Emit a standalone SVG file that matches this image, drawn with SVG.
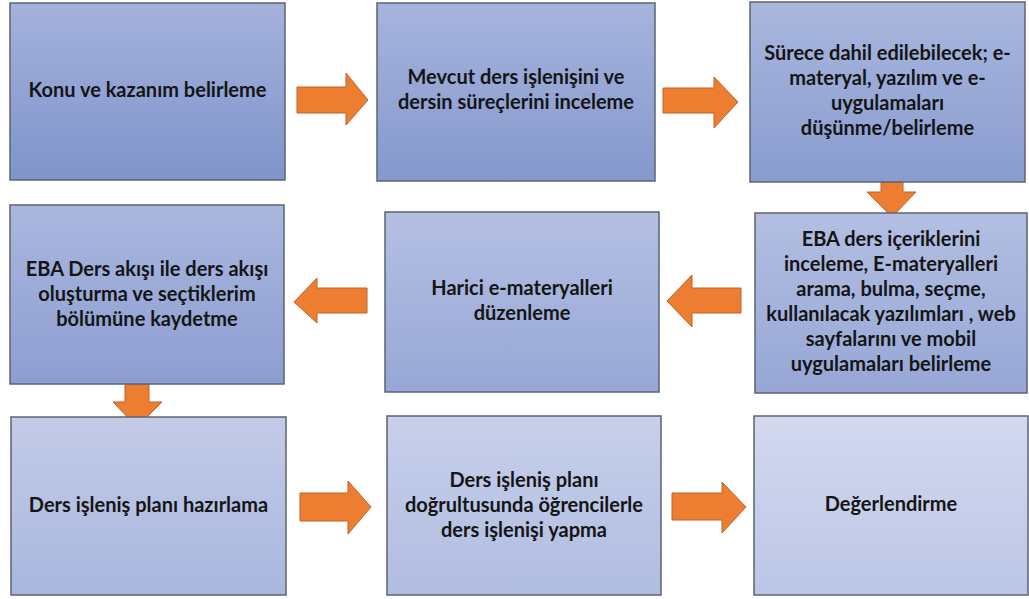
<svg xmlns="http://www.w3.org/2000/svg" width="1029" height="599" viewBox="0 0 1029 599">
<defs>
<linearGradient id="g1" x1="0" y1="0" x2="0" y2="1"><stop offset="0" stop-color="#a4b2dc"/><stop offset="1" stop-color="#7f94cb"/></linearGradient>
<linearGradient id="g2" x1="0" y1="0" x2="0" y2="1"><stop offset="0" stop-color="#a6b4dd"/><stop offset="1" stop-color="#8598cd"/></linearGradient>
<linearGradient id="g3" x1="0" y1="0" x2="0" y2="1"><stop offset="0" stop-color="#a9b7de"/><stop offset="1" stop-color="#899cd0"/></linearGradient>
<linearGradient id="g4" x1="0" y1="0" x2="0" y2="1"><stop offset="0" stop-color="#b3bfe2"/><stop offset="1" stop-color="#96a7d6"/></linearGradient>
<linearGradient id="g5" x1="0" y1="0" x2="0" y2="1"><stop offset="0" stop-color="#b4bfe2"/><stop offset="1" stop-color="#97a8d6"/></linearGradient>
<linearGradient id="g6" x1="0" y1="0" x2="0" y2="1"><stop offset="0" stop-color="#aab7df"/><stop offset="1" stop-color="#8c9ed1"/></linearGradient>
<linearGradient id="g7" x1="0" y1="0" x2="0" y2="1"><stop offset="0" stop-color="#c3cbe8"/><stop offset="1" stop-color="#a9b7de"/></linearGradient>
<linearGradient id="g8" x1="0" y1="0" x2="0" y2="1"><stop offset="0" stop-color="#c7cfea"/><stop offset="1" stop-color="#b0bce1"/></linearGradient>
<linearGradient id="g9" x1="0" y1="0" x2="0" y2="1"><stop offset="0" stop-color="#d3d9ef"/><stop offset="1" stop-color="#bcc5e6"/></linearGradient>
</defs>
<style>
.box{stroke:#5d6370;stroke-width:1.5}
.t{font-family:Lato,"Open Sans","Liberation Sans",sans-serif;font-weight:bold;font-size:20px;fill:#151515;text-anchor:middle}
.ar{fill:#ed7d31;stroke:#c0622a;stroke-width:1}
</style>
<rect width="1029" height="599" fill="#ffffff"/>
<g id="connectors">
<polygon class="ar" points="297,87 346,87 346,73 368,100 346,125 346,113 297,113"/>
<polygon class="ar" points="663,88 714,88 714,77 738,102 714,128 714,113 663,113"/>
<polygon class="ar" points="881,167 903,167 903,192 916,192 892,217 867,192 881,192"/>
<polygon class="ar" points="367,288 317,288 317,278 294,302 317,323 317,313 367,313"/>
<polygon class="ar" points="741,288 692,288 692,275 667,301 692,327 692,313 741,313"/>
<polygon class="ar" points="125,376 149,376 149,402 162,402 137,427 113,402 125,402"/>
<polygon class="ar" points="300,493 348,493 348,481 371,507 348,534 348,521 300,521"/>
<polygon class="ar" points="672,493 722,493 722,482 746,507 722,533 722,520 672,520"/>
</g>
<g id="n1"><rect class="box" x="10" y="3" width="275" height="177" fill="url(#g1)"/>
<text class="t" x="147.5" y="97">Konu ve kazanım belirleme</text></g>
<g id="n2"><rect class="box" x="377" y="3" width="278" height="178" fill="url(#g2)"/>
<text class="t" x="516" y="84">Mevcut ders işlenişini ve</text>
<text class="t" x="516" y="109">dersin süreçlerini inceleme</text></g>
<g id="n3"><rect class="box" x="750" y="2" width="275" height="180" fill="url(#g3)"/>
<text class="t" x="887.5" y="60">Sürece dahil edilebilecek; e-</text>
<text class="t" x="887.5" y="85">materyal, yazılım ve e-</text>
<text class="t" x="887.5" y="110">uygulamaları</text>
<text class="t" x="887.5" y="135">düşünme/belirleme</text></g>
<g id="n4"><rect class="box" x="755" y="213" width="272" height="180" fill="url(#g4)"/>
<text class="t" x="891" y="246">EBA ders içeriklerini</text>
<text class="t" x="891" y="271">inceleme, E-materyalleri</text>
<text class="t" x="891" y="296">arama, bulma, seçme,</text>
<text class="t" x="891" y="321">kullanılacak yazılımları , web</text>
<text class="t" x="891" y="346">sayfalarını ve mobil</text>
<text class="t" x="891" y="371">uygulamaları belirleme</text></g>
<g id="n5"><rect class="box" x="385" y="212" width="274" height="180" fill="url(#g5)"/>
<text class="t" x="522" y="295">Harici e-materyalleri</text>
<text class="t" x="522" y="320">düzenleme</text></g>
<g id="n6"><rect class="box" x="10" y="205" width="274" height="179" fill="url(#g6)"/>
<text class="t" x="147" y="276">EBA Ders akışı ile ders akışı</text>
<text class="t" x="147" y="301">oluşturma ve seçtiklerim</text>
<text class="t" x="147" y="326">bölümüne kaydetme</text></g>
<g id="n7"><rect class="box" x="11" y="417" width="275" height="178" fill="url(#g7)"/>
<text class="t" x="148.5" y="512">Ders işleniş planı hazırlama</text></g>
<g id="n8"><rect class="box" x="387" y="416" width="274" height="179" fill="url(#g8)"/>
<text class="t" x="524" y="487">Ders işleniş planı</text>
<text class="t" x="524" y="512">doğrultusunda öğrencilerle</text>
<text class="t" x="524" y="537">ders işlenişi yapma</text></g>
<g id="n9"><rect class="box" x="754" y="416" width="274" height="179" fill="url(#g9)"/>
<text class="t" x="891" y="511">Değerlendirme</text></g>
</svg>
